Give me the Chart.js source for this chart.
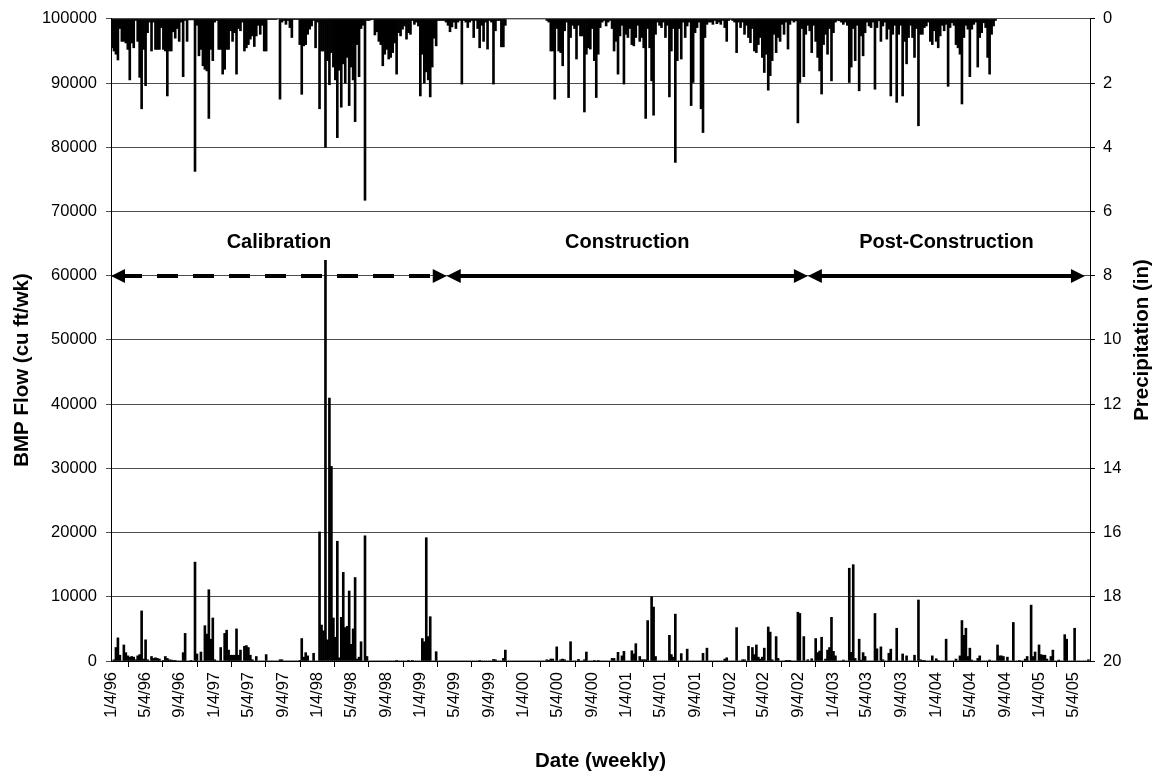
<!DOCTYPE html>
<html>
<head>
<meta charset="utf-8">
<script src="https://cdn.jsdelivr.net/npm/chart.js@4.4.1/dist/chart.umd.min.js"></script>
<style>
  html, body { margin: 0; padding: 0; background: #fff; }
  #wrap { width: 1156px; height: 776px; }
</style>
</head>
<body>
<div id="wrap"><canvas id="myChart" width="1156" height="776"></canvas></div>
<script>
// weekly series, week 0 = week starting 1/4/96
var flowValues = [
  0, 200, 2100, 3600, 900, 0, 2500, 1300, 800, 600,
  700, 600, 200, 800, 1000, 7800, 300, 3300, 200, 0,
  700, 400, 500, 400, 300, 0, 100, 700, 400, 200,
  150, 100, 100, 0, 0, 0, 1300, 4300, 0, 0,
  100, 0, 15400, 1100, 0, 1400, 0, 5500, 4200, 11100,
  3400, 6700, 200, 0, 0, 2100, 0, 4300, 4800, 1700,
  900, 900, 900, 5000, 900, 1700, 0, 2300, 2400, 2100,
  900, 200, 0, 700, 0, 0, 0, 0, 1000, 0,
  0, 0, 0, 0, 0, 200, 200, 0, 0, 0,
  0, 0, 0, 0, 0, 100, 3500, 600, 1300, 800,
  0, 0, 1200, 0, 0, 20100, 5600, 4700, 62400, 3300,
  40950, 30300, 6700, 3700, 18650, 500, 6800, 13800, 5200, 5400,
  10900, 2600, 5000, 13000, 300, 600, 3000, 0, 19500, 700,
  0, 0, 0, 0, 0, 0, 0, 0, 0, 0,
  0, 0, 0, 0, 100, 0, 0, 0, 0, 0,
  100, 0, 100, 0, 0, 0, 0, 3500, 3000, 19200,
  3800, 6900, 0, 0, 1450, 0, 0, 0, 0, 0,
  0, 0, 0, 0, 0, 0, 0, 0, 0, 0,
  0, 0, 0, 0, 0, 0, 100, 0, 0, 0,
  0, 0, 0, 250, 200, 0, 0, 0, 400, 1700,
  0, 0, 0, 0, 0, 0, 0, 0, 0, 0,
  0, 0, 0, 0, 0, 0, 0, 0, 0, 0,
  200, 100, 300, 300, 0, 2200, 0, 200, 300, 200,
  0, 0, 3000, 0, 0, 0, 250, 0, 0, 200,
  1400, 0, 0, 0, 100, 0, 100, 0, 0, 0,
  0, 0, 0, 400, 400, 0, 1350, 0, 800, 1500,
  0, 0, 0, 1600, 1100, 2700, 0, 700, 200, 200,
  200, 6300, 0, 10000, 8400, 700, 0, 0, 0, 0,
  0, 0, 4000, 1000, 600, 7300, 0, 0, 1150, 0,
  0, 1850, 0, 0, 0, 0, 0, 0, 0, 1200,
  0, 2000, 0, 0, 0, 0, 0, 0, 0, 0,
  300, 500, 0, 0, 0, 0, 5200, 0, 0, 200,
  200, 0, 2300, 0, 2100, 1000, 2500, 600, 300, 600,
  2000, 0, 5300, 4500, 200, 0, 3800, 400, 0, 0,
  0, 100, 100, 100, 0, 0, 0, 7600, 7400, 0,
  3800, 0, 200, 0, 350, 0, 3500, 1300, 1550, 3700,
  0, 300, 1700, 2100, 6800, 1500, 800, 0, 0, 0,
  150, 0, 0, 14450, 1350, 15000, 400, 0, 3400, 150,
  1300, 700, 0, 0, 0, 0, 7400, 1900, 0, 2200,
  200, 0, 0, 1200, 1850, 0, 0, 5100, 0, 0,
  1100, 0, 800, 0, 0, 0, 900, 0, 9500, 200,
  100, 100, 0, 0, 0, 800, 0, 350, 100, 0,
  0, 0, 3400, 0, 0, 0, 0, 300, 0, 800,
  6300, 4000, 5100, 700, 2000, 150, 0, 0, 400, 800,
  0, 0, 0, 0, 150, 0, 0, 0, 2500, 800,
  800, 700, 0, 600, 0, 0, 6000, 0, 0, 100,
  0, 0, 300, 700, 0, 8700, 700, 1400, 0, 2500,
  1000, 900, 900, 300, 0, 700, 1700, 0, 0, 150,
  0, 0, 4100, 3400, 0, 0, 0, 5100, 0, 0,
  0, 0, 0, 0, 200
];

var precipValues = [
  0.9, 1.0, 1.1, 1.28, 0.3, 0.7, 0.7, 0.75, 0.95, 1.9,
  0.75, 0.9, 0.05, 0.7, 1.82, 2.8, 0.95, 2.08, 0.43, 0.1,
  1.0, 0.1, 0.95, 0.95, 0.95, 0.27, 0.95, 1.0, 2.4, 1.0,
  1.0, 0.4, 0.6, 0.3, 0.7, 0.1, 1.8, 0.05, 0.7, 0.03,
  0.03, 0.03, 4.75, 0.2, 1.15, 0.95, 1.46, 1.57, 1.62, 3.1,
  0.95, 1.3, 0.1, 0.05, 0.95, 0.95, 1.72, 1.57, 0.95, 0.95,
  0.37, 0.7, 0.43, 1.72, 0.3, 0.37, 0.1, 1.0, 0.9, 0.8,
  0.63, 0.53, 0.86, 0.53, 0.2, 0.48, 0.2, 1.0, 1.0, 0.02,
  0.02, 0.02, 0.02, 0.02, 0, 2.5, 0.1, 0.05, 0.17, 0.05,
  0.27, 0.58, 0.02, 0.02, 0.02, 0.8, 2.35, 0.84, 0.8, 0.48,
  0.32, 0.22, 0.05, 0.9, 0.1, 2.8, 1.0, 1.0, 4.0, 1.3,
  2.05, 1.05, 1.5, 1.9, 3.7, 1.6, 2.75, 1.4, 2.0, 1.2,
  2.7, 1.5, 1.9, 3.2, 0.8, 1.8, 0.3, 0.2, 5.65, 0.05,
  0.05, 0.03, 0.02, 0.5, 0.4, 0.7, 0.8, 1.46, 1.1, 0.95,
  1.25, 1.2, 1.05, 0.75, 1.72, 0.43, 0.53, 0.32, 0.22, 0.63,
  0.43, 0.48, 0.05, 0.17, 0.1, 0.22, 2.4, 1.1, 2.0, 1.65,
  1.9, 2.43, 1.5, 0.6, 0.84, 0.05, 0.05, 0.05, 0.05, 0.1,
  0.2, 0.4, 0.25, 0.1, 0.3, 0.1, 0.05, 2.03, 0.05, 0.1,
  0.27, 0.1, 0.05, 0.58, 0.05, 0.3, 0.9, 0.2, 0.7, 0.1,
  0.94, 0.05, 0.1, 2.03, 0.37, 0.05, 0.05, 0.87, 0.87, 0.2,
  0, 0, 0, 0, 0, 0, 0, 0, 0, 0,
  0, 0, 0, 0, 0, 0, 0, 0, 0, 0,
  0.05, 0.1, 1.0, 1.0, 2.5, 0.3, 1.0, 1.05, 1.46, 0.37,
  0.1, 2.45, 0.58, 0.2, 0.3, 1.25, 0.2, 0.53, 0.53, 2.9,
  1.1, 0.9, 0.94, 0.3, 1.3, 2.45, 1.1, 0.27, 0.1, 0.05,
  0.22, 0.1, 0.05, 0.3, 1.0, 0.7, 1.72, 0.53, 0.2, 2.03,
  0.48, 0.58, 0.3, 0.8, 0.84, 0.58, 0.2, 0.7, 0.58, 0.9,
  3.1, 0.3, 0.9, 1.93, 3.0, 0.48, 0.1, 0.2, 0.27, 0.1,
  0.58, 0.2, 2.43, 1.0, 0.3, 4.47, 1.3, 0.3, 1.25, 0.1,
  0.58, 0.22, 0.1, 2.7, 1.98, 0.43, 0.27, 0.1, 2.8, 3.54,
  0.58, 0.17, 0.1, 0.1, 0.17, 0.05, 0.15, 0.1, 0.17, 0.05,
  0.27, 0.7, 0.05, 0.01, 0.05, 0.1, 1.05, 0.1, 0.27, 0.1,
  0.48, 0.2, 0.58, 0.74, 0.3, 1.0, 1.05, 0.8, 0.58, 1.2,
  1.67, 1.1, 2.22, 1.77, 1.3, 0.48, 1.05, 0.58, 0.7, 0.17,
  0.48, 0.1, 0.94, 0.17, 0.05, 0.1, 0.06, 3.24, 1.98, 0.3,
  1.8, 0.48, 0.2, 0.37, 1.05, 0.2, 0.7, 1.2, 1.62, 2.34,
  0.8, 0.48, 1.1, 0.3, 1.93, 0.43, 0.1, 0.05, 0.06, 0.1,
  0.17, 0.1, 0.2, 1.98, 1.5, 0.3, 1.3, 0.2, 2.24, 0.53,
  1.15, 0.43, 0.1, 0.22, 0.27, 0.1, 2.19, 0.27, 0.06, 0.7,
  0.22, 0.1, 0.63, 0.32, 2.4, 0.48, 0.2, 2.6, 0.48, 0.2,
  2.4, 0.7, 1.4, 0.58, 0.2, 0.58, 1.2, 0.3, 3.33, 0.48,
  0.48, 0.27, 0.22, 0.1, 0.7, 0.8, 0.37, 0.7, 0.9, 0.53,
  0.2, 0.37, 0.17, 2.1, 0.27, 0.12, 0.2, 0.8, 0.9, 1.1,
  2.65, 0.58, 0.2, 0.32, 1.8, 0.32, 0.17, 0.1, 1.5, 0.58,
  0.43, 0.12, 0.27, 1.2, 1.72, 0.48, 0.22, 0.05
];

var tickLabels = [
  "1/4/96", "5/4/96", "9/4/96", "1/4/97", "5/4/97", "9/4/97", "1/4/98", "5/4/98", "9/4/98",
  "1/4/99", "5/4/99", "9/4/99", "1/4/00", "5/4/00", "9/4/00", "1/4/01", "5/4/01", "9/4/01",
  "1/4/02", "5/4/02", "9/4/02", "1/4/03", "5/4/03", "9/4/03", "1/4/04", "5/4/04", "9/4/04",
  "1/4/05", "5/4/05"
];

var phaseNames = ["Calibration", "Construction", "Post-Construction"];
var phaseStartDays = [0, 1189, 2468];
var phaseEndDays = [1189, 2468, 3449];

var FONT = "'Liberation Sans', Arial, sans-serif";

// day offset from 1/4/96 for a m/d/yy label
var dayOf = function(label) {
  var p = label.split('/').map(Number);
  var yr = p[2] < 50 ? 2000 + p[2] : 1900 + p[2];
  return Math.round((Date.UTC(yr, p[0] - 1, p[1]) - Date.UTC(1996, 0, 4)) / 86400000);
};
var tickDays = tickLabels.map(dayOf);

var flowPoints = flowValues.map(function(v, i) { return { x: i * 7 + 3.5, y: v }; });
var precipPoints = precipValues.map(function(v, i) { return { x: i * 7 + 3.5, y: v }; });

var arrowHead = function(c, x, y, dir) {
  c.beginPath();
  c.moveTo(x, y);
  c.lineTo(x - dir * 14, y - 7);
  c.lineTo(x - dir * 14, y + 7);
  c.closePath();
  c.fill();
};

var extras = {
  id: 'extras',
  afterDatasetsDraw: function(chart) {
    var c = chart.ctx, xs = chart.scales.x, ys = chart.scales.y;
    var yLine = Math.round(ys.getPixelForValue(60000));
    c.save();
    c.fillStyle = '#000';
    c.strokeStyle = '#000';
    for (var i = 0; i < phaseNames.length; i++) {
      var x0 = xs.getPixelForValue(phaseStartDays[i]);
      var x1 = xs.getPixelForValue(phaseEndDays[i]);
      c.lineWidth = 4;
      c.setLineDash(i === 0 ? [21, 15] : []);
      c.beginPath();
      c.moveTo(x0 + 10, yLine);
      c.lineTo(x1 - 10, yLine);
      c.stroke();
      c.setLineDash([]);
      arrowHead(c, x0, yLine, -1);
      arrowHead(c, x1, yLine, 1);
      c.font = 'bold 20px ' + FONT;
      c.textAlign = 'center';
      c.textBaseline = 'middle';
      c.fillText(phaseNames[i], (x0 + x1) / 2, yLine - 34);
    }
    c.restore();
  },
  afterDraw: function(chart) {
    var c = chart.ctx, a = chart.chartArea;
    c.save();
    c.fillStyle = '#000';
    c.font = 'bold 20.5px ' + FONT;
    c.textAlign = 'center';
    c.textBaseline = 'middle';
    c.fillText('Date (weekly)', (a.left + a.right) / 2, 761);
    c.translate(22, 370);
    c.rotate(-Math.PI / 2);
    c.fillText('BMP Flow (cu ft/wk)', 0, 0);
    c.restore();
    c.save();
    c.fillStyle = '#000';
    c.font = 'bold 20.5px ' + FONT;
    c.textAlign = 'center';
    c.textBaseline = 'middle';
    c.translate(1142, 340);
    c.rotate(-Math.PI / 2);
    c.fillText('Precipitation (in)', 0, 0);
    c.restore();
  }
};

var ctx = document.getElementById("myChart").getContext('2d');
var config = {
  type: 'bar',
  data: {
    datasets: [
      {
        label: 'BMP Flow',
        data: flowPoints,
        yAxisID: 'y',
        backgroundColor: '#000',
        grouped: false,
        barPercentage: 1,
        categoryPercentage: 1
      },
      {
        label: 'Precipitation',
        data: precipPoints,
        yAxisID: 'y2',
        backgroundColor: '#000',
        grouped: false,
        barPercentage: 1,
        categoryPercentage: 1
      }
    ]
  },
  options: {
    responsive: false,
    animation: false,
    layout: { padding: { top: 18, left: 0, right: 0, bottom: 0 } },
    plugins: {
      legend: { display: false },
      tooltip: { enabled: false }
    },
    scales: {
      x: {
        type: 'linear',
        min: 0,
        max: 3467,
        offset: false,
        border: { color: '#000', width: 1 },
        grid: { drawOnChartArea: false, drawTicks: true, tickLength: 6, color: '#000' },
        afterBuildTicks: function(scale) {
          scale.ticks = tickDays.map(function(d) { return { value: d }; });
        },
        afterFit: function(scale) { scale.height = 115; },
        ticks: {
          autoSkip: false,
          minRotation: 90,
          maxRotation: 90,
          padding: 5,
          color: '#000',
          font: { family: FONT, size: 16.5 },
          callback: function(value) {
            var k = tickDays.indexOf(value);
            return k >= 0 ? tickLabels[k] : '';
          }
        }
      },
      y: {
        position: 'left',
        min: 0,
        max: 100000,
        border: { color: '#000', width: 1 },
        grid: { color: '#4d4d4d', lineWidth: 1, tickLength: 5 },
        afterFit: function(scale) { scale.width = 111; },
        ticks: {
          stepSize: 10000,
          padding: 9,
          color: '#000',
          font: { family: FONT, size: 16.5 },
          callback: function(value) { return String(value); }
        }
      },
      y2: {
        position: 'right',
        reverse: true,
        min: 0,
        max: 20,
        border: { color: '#000', width: 1 },
        grid: { drawOnChartArea: false, tickLength: 5, color: '#000' },
        afterFit: function(scale) { scale.width = 66; },
        ticks: {
          stepSize: 2,
          padding: 8,
          color: '#000',
          font: { family: FONT, size: 16.5 },
          callback: function(value) { return String(value); }
        }
      }
    }
  },
  plugins: [extras]
};
var myChart = new Chart(ctx, config);
</script>
</body>
</html>
